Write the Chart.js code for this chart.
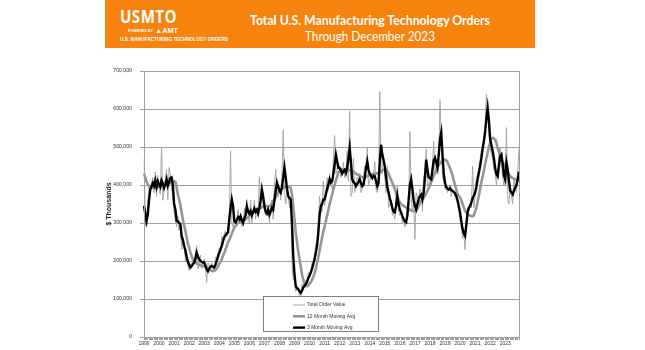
<!DOCTYPE html>
<html>
<head>
<meta charset="utf-8">
<script src="https://cdn.jsdelivr.net/npm/chart.js@4.4.0/dist/chart.umd.min.js"></script>
<style>
  body { margin: 0; width: 645px; height: 350px; background: #fff; position: relative; overflow: hidden; }
  #wrap { position: absolute; left: 0; top: 0; width: 645px; height: 350px; }
  #banner { position: absolute; left: 105px; top: 0; width: 430px; height: 48px; background: #f7830f; color: #fff; z-index: 2; }
  #banner .fit { position: absolute; white-space: nowrap; transform-origin: 0 0; line-height: 1; }
  #logo { left: 15px; top: 8px; font: bold 17px "Open Sans", sans-serif; letter-spacing: 0.5px; }
  #powered { left: 23px; top: 27px; font: bold 7px "Liberation Sans", sans-serif; }
  #powered small { font-size: 3.5px; font-weight: bold; margin-right: 2px; vertical-align: 1px; }
  #tag { left: 15px; top: 38px; font: bold 4.6px "Liberation Sans", sans-serif; }
  #t1 { left: 145px; top: 14px; font: bold 13px "Lato", sans-serif; }
  #t2 { left: 200px; top: 30px; font: 13px "Lato", sans-serif; }
</style>
</head>
<body>
<div id="banner">
  <div class="fit" id="logo" data-w="57">USMTO</div>
  <div class="fit" id="powered" data-w="50"><small>POWERED BY</small>&#9650;AMT</div>
  <div class="fit" id="tag" data-w="108">U.S. MANUFACTURING TECHNOLOGY ORDERS</div>
  <div class="fit" id="t1" data-w="240">Total U.S. Manufacturing Technology Orders</div>
  <div class="fit" id="t2" data-w="130">Through December 2023</div>
</div>
<div id="wrap"><canvas id="myChart" width="645" height="350"></canvas></div>
<script>
// squeeze banner texts to the width they take in the picture
document.querySelectorAll('#banner .fit').forEach(function (el) {
  var w = el.getBoundingClientRect().width;
  el.style.transform = 'scaleX(' + (el.dataset.w / w) + ')';
});

const years = [1999, 2000, 2001, 2002, 2003, 2004, 2005, 2006, 2007, 2008, 2009, 2010, 2011,
  2012, 2013, 2014, 2015, 2016, 2017, 2018, 2019, 2020, 2021, 2022, 2023];

// monthly values, $ millions (axis shows $ thousands)
const total = [
  470, 300, 290, 340, 400, 390, 400, 420, 380, 435, 370, 425,
  390, 375, 500, 360, 380, 415, 440, 360, 446, 430, 395, 370,
  330, 310, 290, 320, 280, 300, 230, 260, 240, 200, 215, 185,
  175, 190, 195, 190, 205, 220, 240, 180, 200, 215, 180, 200,
  205, 180, 144, 195, 190, 175, 195, 180, 175, 210, 205, 220,
  235, 225, 265, 250, 270, 280, 265, 285, 300, 490, 300, 290,
  320, 290, 310, 335, 300, 320, 290, 295, 340, 315, 362, 320,
  300, 360, 300, 330, 360, 310, 340, 320, 422, 340, 380, 350,
  330, 320, 330, 345, 300, 345, 360, 310, 400, 441, 380, 370,
  400, 360, 420, 545, 380, 350, 390, 370, 340, 370, 190, 150,
  150, 120, 125, 130, 105, 110, 140, 125, 140, 150, 145, 170,
  165, 175, 195, 200, 215, 245, 255, 300, 370, 340, 330, 410,
  345, 380, 420, 385, 430, 400, 390, 470, 530, 430, 440, 460,
  440, 420, 430, 460, 420, 420, 490, 410, 594, 370, 380, 470,
  380, 400, 420, 410, 430, 380, 390, 420, 450, 430, 500, 400,
  410, 430, 420, 425, 462, 390, 380, 400, 646, 440, 430, 480,
  420, 380, 450, 340, 350, 360, 320, 330, 310, 370, 400, 330,
  320, 330, 300, 310, 290, 300, 340, 330, 541, 370, 330, 360,
  257, 380, 370, 350, 390, 380, 330, 420, 430, 495, 400, 400,
  420, 400, 450, 515, 440, 430, 470, 450, 625, 520, 420, 410,
  390, 400, 380, 390, 400, 370, 390, 380, 370, 360, 350, 330,
  310, 290, 260, 270, 230, 310, 340, 330, 350, 340, 450, 340,
  370, 420, 430, 440, 470, 490, 500, 520, 560, 638, 590, 540,
  500, 480, 470, 440, 430, 400, 440, 480, 500, 460, 420, 400,
  430, 551, 360, 350, 400, 370, 350, 420, 390, 380, 440, 495
];

const avg12 = [
  430, 420, 410, 402, 398, 395, 393, 392, 392, 393, 394, 395,
  396, 397, 398, 399, 400, 401, 402, 403, 404, 405, 406, 407,
  410, 408, 395, 375, 362, 348, 328, 310, 293, 280, 262, 245,
  235, 222, 213, 205, 198, 195, 193, 192, 190, 189, 188, 187,
  186, 184, 182, 180, 178, 176, 174, 173, 174, 176, 180, 185,
  192, 198, 205, 213, 222, 230, 240, 249, 256, 264, 272, 280,
  288, 292, 296, 300, 302, 304, 306, 307, 308, 310, 312, 314,
  320, 324, 328, 330, 332, 334, 336, 337, 338, 340, 342, 344,
  345, 345, 344, 344, 345, 347, 352, 358, 362, 368, 374, 380,
  384, 388, 390, 392, 394, 396, 396, 395, 394, 392, 375, 345,
  310, 275, 250, 225, 205, 185, 165, 150, 140, 134, 134, 136,
  140, 144, 150, 158, 168, 180, 195, 210, 228, 245, 262, 278,
  290, 305, 320, 335, 350, 362, 375, 388, 400, 412, 422, 432,
  438, 440, 441, 441, 440, 440, 439, 438, 438, 437, 436, 435,
  433, 430, 428, 426, 424, 422, 421, 420, 420, 421, 423, 425,
  426, 427, 428, 429, 430, 430, 431, 432, 434, 436, 438, 440,
  440, 439, 436, 430, 422, 414, 406, 398, 388, 378, 368, 360,
  355, 350, 347, 345, 343, 341, 339, 337, 335, 333, 332, 331,
  331, 333, 338, 345, 352, 358, 362, 366, 372, 378, 385, 392,
  400, 408, 416, 424, 432, 440, 446, 452, 457, 461, 464, 466,
  467, 465, 460, 452, 444, 436, 425, 412, 400, 388, 376, 371,
  368, 360, 350, 340, 332, 328, 324, 321, 319, 318, 318, 320,
  330, 340, 355, 372, 390, 408, 422, 438, 455, 470, 485, 500,
  512, 522, 524, 522, 520, 510, 498, 488, 476, 468, 460, 455,
  450, 442, 435, 428, 423, 420, 418, 416, 415, 414, 413, 412
];

const avg3 = [
  345, 325, 305, 322, 360, 388, 396, 405, 398, 412, 395, 410,
  402, 395, 412, 405, 392, 400, 415, 398, 408, 418, 420, 400,
  350, 336, 305, 305, 300, 298, 266, 255, 240, 228, 212, 198,
  190, 183, 186, 192, 196, 205, 222, 212, 205, 200, 198, 196,
  196, 188, 178, 173, 180, 185, 187, 185, 183, 190, 200, 212,
  222, 230, 240, 252, 262, 268, 272, 275, 310, 340, 362, 345,
  305, 302, 308, 315, 310, 318, 306, 300, 312, 320, 344, 330,
  325, 332, 320, 328, 338, 330, 335, 325, 340, 360, 388, 370,
  345, 330, 325, 335, 322, 330, 340, 335, 360, 385, 406, 395,
  385, 380, 395, 420, 446, 420, 390, 371, 365, 362, 300, 213,
  165, 134, 128, 126, 120, 116, 122, 130, 135, 139, 145, 155,
  162, 170, 180, 192, 205, 222, 240, 275, 320, 344, 350, 362,
  362, 375, 390, 400, 415, 406, 410, 430, 455, 480, 462, 445,
  445, 438, 430, 436, 440, 432, 445, 470, 498, 460, 415, 408,
  405, 397, 402, 408, 415, 405, 397, 400, 420, 445, 462, 440,
  430, 423, 418, 425, 423, 410, 397, 405, 460, 506, 480, 465,
  449, 420, 395, 380, 365, 354, 340, 330, 328, 345, 371, 350,
  335, 328, 318, 310, 305, 302, 320, 360, 400, 415, 390, 360,
  345, 336, 350, 362, 371, 375, 362, 380, 420, 467, 440, 420,
  418, 415, 440, 465, 472, 460, 446, 480, 520, 538, 480, 430,
  406, 395, 390, 388, 392, 386, 384, 382, 378, 371, 360, 345,
  328, 305, 284, 272, 266, 295, 328, 340, 345, 354, 365, 372,
  380, 395, 415, 432, 450, 470, 495, 515, 540, 575, 603, 570,
  520, 505, 489, 470, 445, 428, 423, 450, 475, 480, 455, 425,
  415, 459, 440, 410, 385, 380, 375, 385, 393, 400, 415, 435
];

const yTicks = [0, 100, 200, 300, 400, 500, 600, 700];

const months = [];
years.forEach(function (y) {
  for (var m = 1; m <= 12; m++) months.push(y + '-' + (m < 10 ? '0' + m : m));
});

// box round the plot + legend inside the plot
const framePlugin = {
  id: 'frame',
  afterDatasetsDraw: function (chart) {
    var c = chart.ctx, a = chart.chartArea;
    c.save();
    c.strokeStyle = '#a0a0a0';
    c.lineWidth = 1;
    c.strokeRect(a.left + 0.5, a.top + 0.5, a.right - a.left, a.bottom - a.top);

    // legend box
    var bx = 263.5, by = 296.5, bw = 115, bh = 35;
    c.fillStyle = '#fff';
    c.fillRect(bx, by, bw, bh);
    c.strokeStyle = '#808080';
    c.strokeRect(bx, by, bw, bh);
    c.font = '5px "Liberation Sans", Arial, sans-serif';
    c.textBaseline = 'middle';
    chart.data.datasets.forEach(function (ds, i) {
      var yy = 305 + i * 11.3;
      c.strokeStyle = ds.borderColor;
      c.lineWidth = ds.borderWidth;
      c.beginPath();
      c.moveTo(293, yy);
      c.lineTo(305, yy);
      c.stroke();
      c.fillStyle = '#333';
      c.fillText(ds.label, 307, yy);
    });
    c.restore();
  }
};

const ctx = document.getElementById('myChart');

var chart = new Chart(ctx, {
  type: 'line',
  data: {
    labels: months,
    datasets: [{
      label: 'Total Order Value',
      data: total,
      borderWidth: 1,
      borderColor: '#a8a8a8',
      order: 3
    },
    {
      label: '12 Month Moving Avg',
      data: avg12,
      borderWidth: 2.6,
      borderColor: '#969696',
      order: 2
    },
    {
      label: '3 Month Moving Avg',
      data: avg3,
      borderWidth: 2.4,
      borderColor: '#000000',
      order: 1
    }]
  },
  options: {
    responsive: false,
    animation: false,
    events: [],
    layout: { padding: { left: 105, right: 126, top: 71, bottom: 0 } },
    elements: { point: { radius: 0 }, line: { tension: 0 } },
    plugins: { legend: { display: false }, tooltip: { enabled: false } },
    scales: {
      x: {
        offset: false,
        afterFit: function (s) { s.height = 13; },
        grid: { drawOnChartArea: false, drawTicks: true, tickLength: 3, color: '#a0a0a0' },
        border: { color: '#a0a0a0' },
        ticks: {
          autoSkip: false,
          maxRotation: 0,
          padding: 1,
          color: '#333',
          font: { family: '"Liberation Sans", Arial, sans-serif', size: 5 },
          callback: function (v, i) { return i % 12 === 0 ? String(years[i / 12]) : ''; }
        }
      },
      y: {
        min: 0,
        max: 700,
        afterFit: function (s) { s.width = 39; },
        afterBuildTicks: function (s) { s.ticks = yTicks.map(function (v) { return { value: v }; }); },
        grid: { color: '#a0a0a0', tickLength: 4 },
        border: { color: '#a0a0a0' },
        title: {
          display: true,
          text: '$ Thousands',
          color: '#222',
          padding: { top: 0, bottom: 0 },
          font: { family: '"Liberation Sans", Arial, sans-serif', size: 7, weight: 'bold' }
        },
        ticks: {
          padding: 8,
          color: '#333',
          font: { family: '"Liberation Sans", Arial, sans-serif', size: 5.2 },
          callback: function (v) { return (v * 1000).toLocaleString('en-US'); }
        }
      }
    }
  },
  plugins: [framePlugin]
});
</script>
</body>
</html>
